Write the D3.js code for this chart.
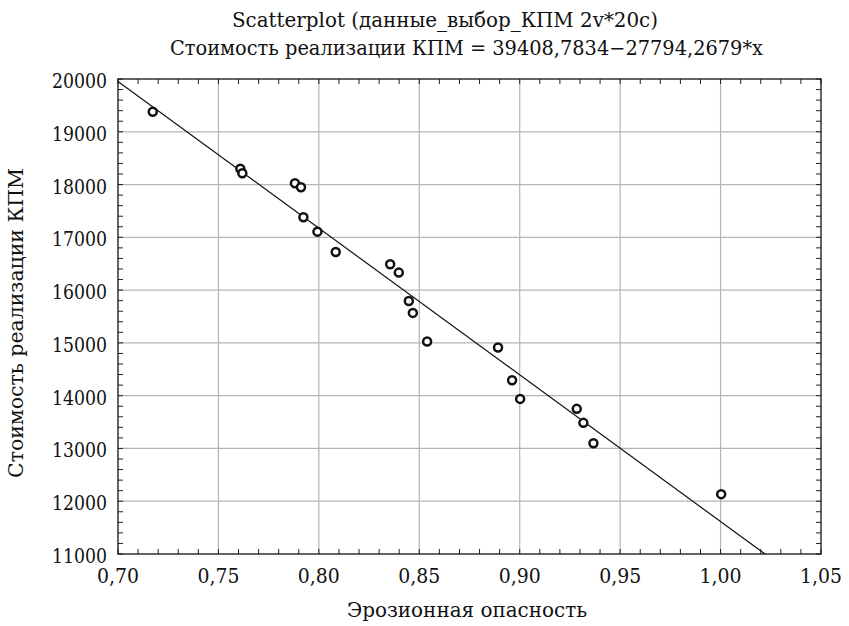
<!DOCTYPE html>
<html>
<head>
<meta charset="utf-8">
<script src="https://cdn.jsdelivr.net/npm/d3@7"></script>
<style>
  html, body { margin: 0; padding: 0; background: #fff; }
  svg { display: block; }
</style>
</head>
<body>
<svg id="chart" width="849" height="626"></svg>
<script>
// ---- data ----
const erosion = [0.7173, 0.7609, 0.7619, 0.7881, 0.7911, 0.7923, 0.7993, 0.8084,
                 0.8355, 0.8398, 0.8448, 0.8468, 0.8539, 0.8892, 0.8962, 0.9002,
                 0.9284, 0.9317, 0.9367, 1.0003];
const cost = [19381, 18301, 18214, 18025, 17949, 17381, 17108, 16723,
              16491, 16332, 15795, 15568, 15025, 14911, 14293, 13939,
              13750, 13485, 13100, 12134];
const xTickValues = [0.70, 0.75, 0.80, 0.85, 0.90, 0.95, 1.00, 1.05];
const yTickValues = [11000, 12000, 13000, 14000, 15000, 16000, 17000, 18000, 19000, 20000];
const intercept = 39408.7834;
const slope = -27794.2679;
const title1 = "Scatterplot (данные_выбор_КПМ 2v*20c)";
const title2 = "Стоимость реализации КПМ = 39408,7834\u221227794,2679*x";
const xLabel = "Эрозионная опасность";
const yLabel = "Стоимость реализации КПМ";

// ---- layout ----
const FONT = "DejaVu Serif";
const L = 118, R = 821, T = 79, B = 554;
const svg = d3.select("#chart");
const x = d3.scaleLinear().domain([0.70, 1.05]).range([L, R]);
const y = d3.scaleLinear().domain([11000, 20000]).range([B, T]);
const fmtX = d => d3.format(".2f")(d).replace(".", ",");

// gridlines
const grid = svg.append("g").attr("stroke", "#b4b4b4").attr("stroke-width", 1.2);
grid.selectAll("line.gx").data(xTickValues.slice(1, -1)).join("line")
  .attr("x1", d => x(d)).attr("x2", d => x(d)).attr("y1", T).attr("y2", B);
grid.selectAll("line.gy").data(yTickValues.slice(1, -1)).join("line")
  .attr("y1", d => y(d)).attr("y2", d => y(d)).attr("x1", L).attr("x2", R);

// minor ticks (inward, all four sides)
const tickLen = 5;
const minorX = x.ticks(35);
const minorY = y.ticks(45);
const tk = svg.append("g").attr("stroke", "#222").attr("stroke-width", 1);
tk.selectAll("line.bx").data(minorX).join("line")
  .attr("x1", d => x(d)).attr("x2", d => x(d)).attr("y1", B).attr("y2", B - tickLen);
tk.selectAll("line.tx").data(minorX).join("line")
  .attr("x1", d => x(d)).attr("x2", d => x(d)).attr("y1", T).attr("y2", T + tickLen);
tk.selectAll("line.ly").data(minorY).join("line")
  .attr("y1", d => y(d)).attr("y2", d => y(d)).attr("x1", L).attr("x2", L + tickLen);
tk.selectAll("line.ry").data(minorY).join("line")
  .attr("y1", d => y(d)).attr("y2", d => y(d)).attr("x1", R).attr("x2", R - tickLen);

// clip
svg.append("clipPath").attr("id", "plotclip").append("rect")
  .attr("x", L).attr("y", T).attr("width", R - L).attr("height", B - T);

// regression line
const lineX = [0.70, 1.05];
svg.append("path")
  .attr("clip-path", "url(#plotclip)")
  .attr("d", d3.line().x(d => x(d)).y(d => y(intercept + slope * d))(lineX))
  .attr("fill", "none").attr("stroke", "#111").attr("stroke-width", 1.2);

// frame
svg.append("rect").attr("x", L).attr("y", T).attr("width", R - L).attr("height", B - T)
  .attr("fill", "none").attr("stroke", "#111").attr("stroke-width", 1.3);

// points
svg.append("g").selectAll("circle").data(erosion.map((e, i) => [e, cost[i]])).join("circle")
  .attr("cx", d => x(d[0])).attr("cy", d => y(d[1])).attr("r", 4)
  .attr("fill", "#fff").attr("stroke", "#111").attr("stroke-width", 2.5);

const txt = svg.append("g").attr("fill", "#111");

// tick labels
txt.append("g").selectAll("text").data(xTickValues).join("text")
  .attr("x", d => x(d)).attr("y", 583).attr("text-anchor", "middle")
  .attr("font-family", FONT).attr("font-size", 21)
  .attr("textLength", 42).attr("lengthAdjust", "spacingAndGlyphs").text(fmtX);
txt.append("g").selectAll("text").data(yTickValues).join("text")
  .attr("x", 107).attr("y", d => y(d) + 9).attr("text-anchor", "end")
  .attr("font-family", FONT).attr("font-size", 21)
  .attr("textLength", 55).attr("lengthAdjust", "spacingAndGlyphs").text(d => d);

// titles
txt.append("text").attr("x", 232).attr("y", 27)
  .attr("font-family", FONT).attr("font-size", 20)
  .attr("textLength", 426).attr("lengthAdjust", "spacingAndGlyphs").text(title1);
txt.append("text").attr("x", 170).attr("y", 55)
  .attr("font-family", FONT).attr("font-size", 20)
  .attr("textLength", 593).attr("lengthAdjust", "spacingAndGlyphs").text(title2);

// axis labels
txt.append("text").attr("x", 347).attr("y", 617)
  .attr("font-family", FONT).attr("font-size", 20)
  .attr("textLength", 240).attr("lengthAdjust", "spacingAndGlyphs").text(xLabel);
txt.append("text").attr("transform", "translate(23,478) rotate(-90)")
  .attr("font-family", FONT).attr("font-size", 20)
  .attr("textLength", 310).attr("lengthAdjust", "spacingAndGlyphs").text(yLabel);
</script>
</body>
</html>
